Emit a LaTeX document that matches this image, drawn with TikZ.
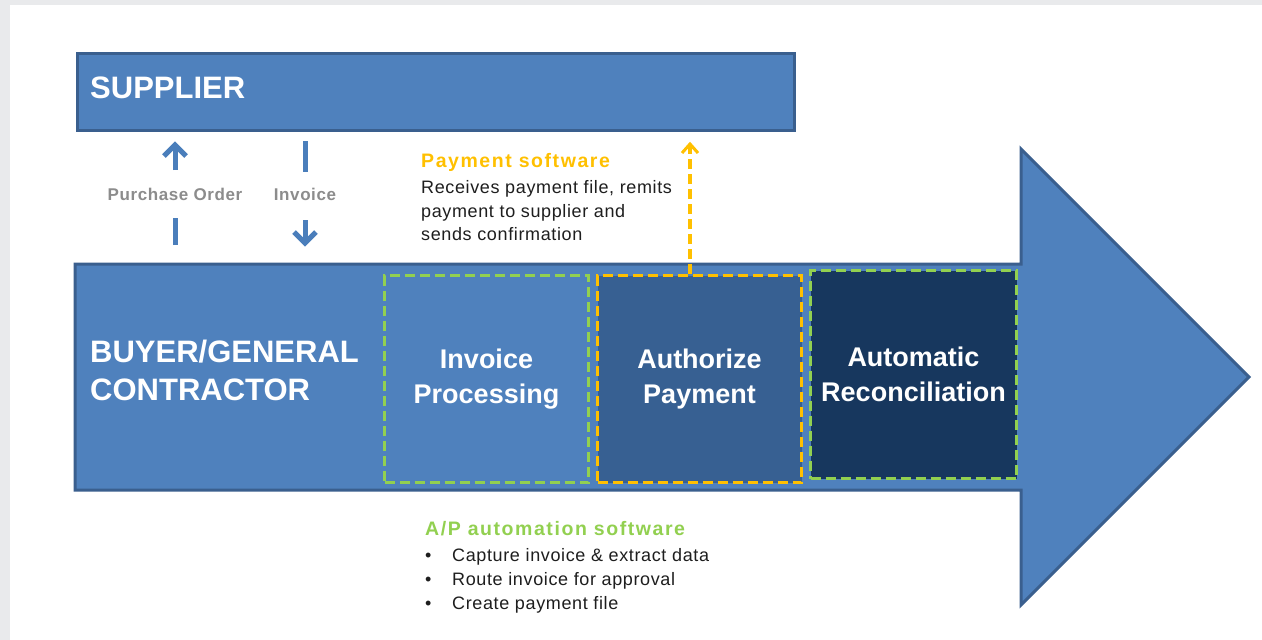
\documentclass[tikz,border=0pt]{standalone}
\usepackage{fontspec}
\setmainfont{Liberation Sans}
\newfontfamily\spacedfont[LetterSpace=3.5]{Liberation Sans}
\newfontfamily\headfont[LetterSpace=8]{Liberation Sans}
\usetikzlibrary{arrows.meta}
\definecolor{bgray}{HTML}{E9EAEC}
\definecolor{mblue}{HTML}{4F81BD}
\definecolor{bline}{HTML}{3A5F8E}
\definecolor{mdblue}{HTML}{376092}
\definecolor{ddblue}{HTML}{17375E}
\definecolor{agreen}{HTML}{92D050}
\definecolor{aorange}{HTML}{FFC000}
\definecolor{tgray}{HTML}{8C8C8C}
\definecolor{tblack}{HTML}{1E1E1E}
\definecolor{sblue}{HTML}{4A7EBB}
\begin{document}
\begin{tikzpicture}[x=1pt,y=-1pt,
  bigtxt/.style={text=white,font=\fontsize{31}{38}\selectfont\bfseries,inner sep=0pt,anchor=base west},
  stage/.style={line width=3pt,dash pattern=on 10pt off 5pt,minimum width=204pt,minimum height=207pt,
     anchor=north west,inner sep=0pt,text=white,align=center,font=\fontsize{27}{35}\selectfont\bfseries},
  sline/.style={sblue,line width=5pt},
  shead/.style={sblue,line width=5pt,line join=miter},
  oline/.style={aorange,line width=3.5pt,dash pattern=on 10pt off 5pt},
  ohead/.style={aorange,line width=3pt,line join=miter},
  graytxt/.style={text=tgray,font=\spacedfont\fontsize{17}{20}\selectfont\bfseries,inner sep=0pt,anchor=base},
  headtxt/.style={font=\headfont\fontsize{19.5}{24}\selectfont\bfseries,inner sep=0pt,anchor=base west},
  bodytxt/.style={text=tblack,font=\spacedfont\fontsize{18}{24}\selectfont,inner sep=0pt,anchor=base west,align=left}
]
\fill[bgray] (0,0) rectangle (1262,640);
\fill[white] (10,5) rectangle (1262,640);
\useasboundingbox (0,0) rectangle (1262,640);

% main arrow
\draw[bline,line width=3pt,fill=mblue,line join=miter]
  (75,264) -- (1021,264) -- (1021,149) -- (1249,377) -- (1021,605) -- (1021,490) -- (75,490) -- cycle;
\node[bigtxt] (buyer1) at (90,362) {BUYER/GENERAL};
\node[bigtxt] (buyer2) at (90,400) {CONTRACTOR};

% supplier
\node[draw=bline,line width=3pt,fill=mblue,minimum width=717pt,minimum height=77pt,anchor=north west,inner sep=0pt] (sup) at (76,52) {};
\node[bigtxt] (suptxt) at (90,98) {SUPPLIER};

% stages
\node[stage,fill=mblue,draw=agreen] (ip) at (383,274) {Invoice\\Processing};
\node[stage,fill=mdblue,draw=aorange] (ap) at (596,274) {Authorize\\Payment};
\node[stage,fill=ddblue,draw=agreen,minimum width=206pt,minimum height=208pt] (ar) at (809,269) {Automatic\\Reconciliation};

% purchase order arrow (up)
\coordinate (po1) at (175,245);
\coordinate (po2) at (175,218);
\coordinate (po3) at (175,170);
\coordinate (po4) at (175,145);
\draw[sline] (po1) -- (po2);
\draw[sline] (po3) -- (po4);
\draw[shead] ([xshift=-11pt,yshift=-11pt]po4) -- (po4) -- ([xshift=11pt,yshift=-11pt]po4);
\node[graytxt] (potxt) at (175,200) {Purchase Order};

% invoice arrow (down)
\coordinate (in1) at (305,141);
\coordinate (in2) at (305,172);
\coordinate (in3) at (305,220);
\coordinate (in4) at (305,243);
\draw[sline] (in1) -- (in2);
\draw[sline] (in3) -- (in4);
\draw[shead] ([xshift=-11pt,yshift=11pt]in4) -- (in4) -- ([xshift=11pt,yshift=11pt]in4);
\node[graytxt] (intxt) at (305,200) {Invoice};

% payment software
\coordinate (pay) at (690,144);
\draw[oline] (ap.north -| pay) -- (pay);
\draw[ohead] ([xshift=-8pt,yshift=-9pt]pay) -- (pay) -- ([xshift=8pt,yshift=-9pt]pay);
\node[headtxt,text=aorange] (payhead) at (421,167) {Payment software};
\node[bodytxt] (pay1) at (421,193) {Receives payment file, remits};
\node[bodytxt] (pay2) at (421,217) {payment to supplier and};
\node[bodytxt] (pay3) at (421,240) {sends confirmation};

% A/P automation
\node[headtxt,text=agreen] (aphead) at (425,535) {A/P automation software};
\node[bodytxt] (b1) at (425,561) {\textbullet};
\node[bodytxt] (b2) at (425,585) {\textbullet};
\node[bodytxt] (b3) at (425,609) {\textbullet};
\node[bodytxt] (l1) at (452,561) {Capture invoice \& extract data};
\node[bodytxt] (l2) at (452,585) {Route invoice for approval};
\node[bodytxt] (l3) at (452,609) {Create payment file};
\end{tikzpicture}
\end{document}
